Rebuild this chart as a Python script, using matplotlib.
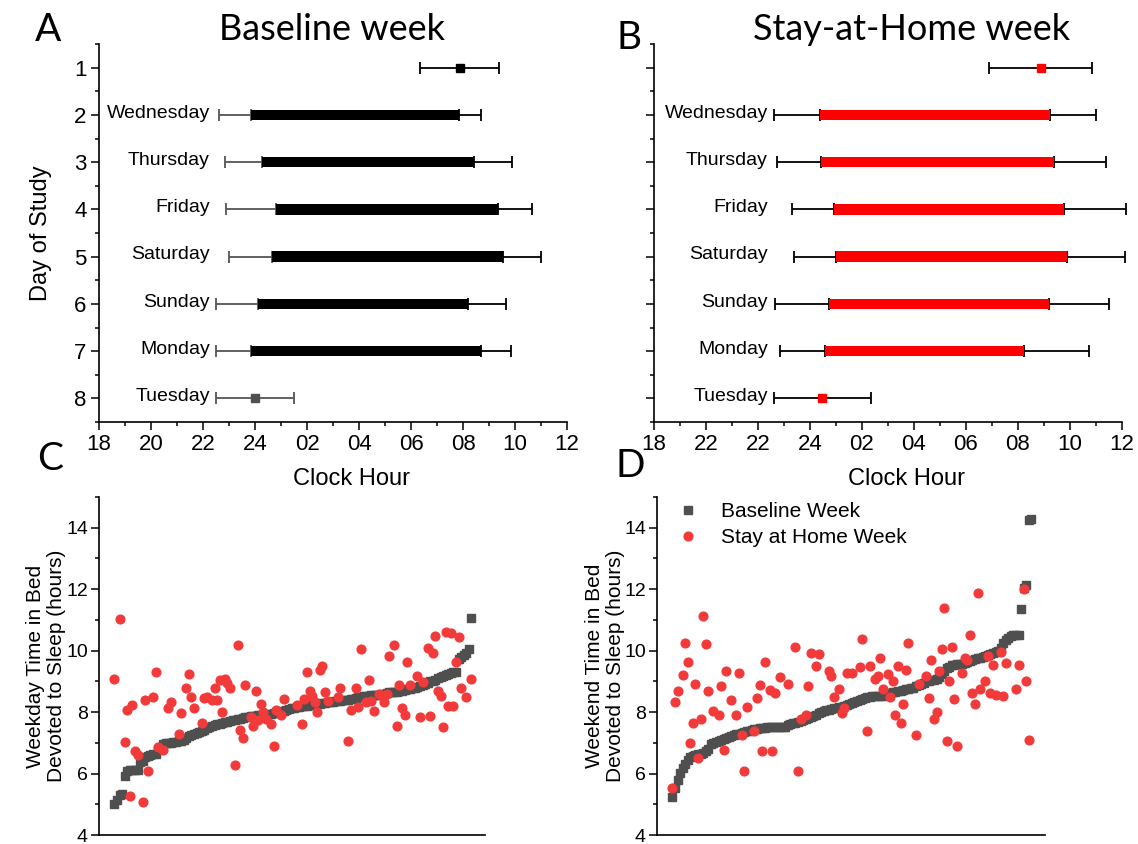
import numpy as np
import matplotlib
matplotlib.use("Agg")
import matplotlib.pyplot as plt
from matplotlib.ticker import MultipleLocator

plt.rcParams['font.family'] = ['Liberation Sans', 'DejaVu Sans']

# -------- PANELS A / B : sleep timing ----------
# clock hours on an 18..36 axis (24 = midnight, 32 = 08:00 next day)
days = ["Wednesday", "Thursday", "Friday", "Saturday", "Sunday", "Monday"]
day_rows = [2, 3, 4, 5, 6, 7]
hour_ticks = [18, 20, 22, 24, 26, 28, 30, 32, 34, 36]
hour_labels_a = ["18", "20", "22", "24", "02", "04", "06", "08", "10", "12"]
hour_labels_b = ["18", "22", "22", "24", "02", "04", "06", "08", "10", "12"]

base_bed = [23.85, 24.27, 24.79, 24.67, 24.13, 23.86]
base_bed_sd = [1.24, 1.44, 1.89, 1.67, 1.62, 1.35]
base_wake = [31.86, 32.44, 33.33, 33.55, 32.20, 32.69]
base_wake_sd = [0.83, 1.46, 1.32, 1.46, 1.44, 1.15]
base_first_wake, base_first_sd = 31.88, 1.52
base_last_bed, base_last_sd = 24.00, 1.50

home_bed = [24.37, 24.44, 24.91, 24.99, 24.72, 24.56]
home_bed_sd = [1.76, 1.69, 1.61, 1.61, 2.08, 1.72]
home_wake = [33.25, 33.39, 33.78, 33.88, 33.18, 32.22]
home_wake_sd = [1.75, 1.98, 2.37, 2.22, 2.31, 2.50]
home_first_wake, home_first_sd = 32.88, 1.98
home_last_bed, home_last_sd = 24.48, 1.85

# -------- PANELS C / D : time in bed devoted to sleep ----------
wkday_base = [5.02, 5.15, 5.30, 5.32, 5.92, 6.08, 6.10, 6.12, 6.12, 6.13,
              6.38, 6.42, 6.55, 6.58, 6.60, 6.62, 6.65, 6.78, 6.85, 6.95,
              6.98, 7.00, 7.00, 7.02, 7.03, 7.05, 7.07, 7.10, 7.15, 7.22,
              7.25, 7.28, 7.32, 7.35, 7.38, 7.42, 7.48, 7.52, 7.55, 7.57,
              7.60, 7.62, 7.65, 7.67, 7.69, 7.71, 7.73, 7.75, 7.77, 7.79,
              7.81, 7.83, 7.85, 7.86, 7.87, 7.88, 7.89, 7.90, 7.91, 7.92,
              7.93, 7.94, 7.96, 7.98, 8.00, 8.02, 8.04, 8.06, 8.09, 8.12,
              8.14, 8.16, 8.18, 8.19, 8.20, 8.21, 8.22, 8.23, 8.24, 8.25,
              8.26, 8.30, 8.31, 8.32, 8.33, 8.34, 8.35, 8.36, 8.37, 8.38,
              8.39, 8.40, 8.42, 8.44, 8.46, 8.48, 8.50, 8.51, 8.52, 8.53,
              8.54, 8.55, 8.56, 8.57, 8.58, 8.60, 8.62, 8.64, 8.65, 8.66,
              8.67, 8.68, 8.70, 8.72, 8.74, 8.76, 8.78, 8.80, 8.82, 8.85,
              8.88, 8.92, 8.96, 9.00, 9.02, 9.06, 9.12, 9.15, 9.18, 9.20,
              9.23, 9.26, 9.30, 9.32, 9.72, 9.80, 9.86, 9.92, 10.05, 11.05]

wkday_home_idx = [1, 3, 5, 6, 7, 8, 9, 10, 12, 13, 14, 16, 17, 18, 20, 22, 23,
                  26, 27, 29, 30, 31, 32, 35, 36, 37, 39, 40, 41, 42, 43, 44,
                  45, 46, 48, 49, 50, 51, 52, 54, 55, 56, 57, 58, 59, 60, 62,
                  63, 64, 66, 67, 72, 74, 75, 76, 77, 78, 79, 80, 81, 82, 83,
                  84, 88, 89, 92, 93, 95, 96, 97, 99, 100, 101, 102, 104, 106,
                  107, 108, 110, 111, 112, 113, 114, 115, 116, 119, 120, 121,
                  123, 124, 125, 126, 127, 128, 129, 130, 131, 132, 133, 134,
                  135, 136, 138, 140]
wkday_home = [9.07, 11.04, 7.02, 8.07, 5.27, 8.23, 6.72, 6.61, 5.06, 8.40, 6.08,
              8.49, 9.29, 6.88, 6.75, 8.12, 8.34, 7.29, 7.96, 8.80, 9.25, 8.48,
              8.14, 7.66, 8.46, 8.48, 8.38, 8.77, 8.38, 9.04, 8.01, 9.09, 8.94,
              8.77, 6.28, 10.18, 7.43, 7.17, 8.87, 7.84, 7.56, 8.68, 7.73, 8.25,
              8.01, 7.78, 7.60, 6.91, 8.08, 7.89, 8.43, 8.23, 7.62, 8.43, 9.29,
              8.68, 8.52, 8.34, 8.01, 9.37, 9.50, 8.66, 8.36, 8.50, 8.77, 7.06,
              8.08, 8.79, 8.16, 10.06, 8.34, 9.04, 8.36, 8.03, 8.58, 8.34, 8.58,
              9.81, 10.18, 7.54, 8.88, 8.14, 7.92, 9.62, 8.87, 9.18, 7.83, 8.99,
              10.07, 7.87, 9.93, 10.49, 8.68, 8.51, 7.51, 10.60, 8.19, 10.57,
              8.21, 9.64, 10.44, 8.77, 8.50, 9.09]

wkend_base = [5.25, 5.52, 5.80, 6.02, 6.18, 6.32, 6.45, 6.53, 6.57, 6.60,
              6.62, 6.65, 6.68, 6.72, 6.80, 6.95, 7.00, 7.02, 7.05, 7.08,
              7.12, 7.15, 7.20, 7.23, 7.26, 7.28, 7.30, 7.32, 7.35, 7.38,
              7.40, 7.42, 7.44, 7.46, 7.47, 7.48, 7.49, 7.50, 7.50, 7.50,
              7.51, 7.51, 7.52, 7.52, 7.53, 7.58, 7.62, 7.64, 7.66, 7.68,
              7.70, 7.73, 7.76, 7.80, 7.84, 7.88, 7.92, 7.96, 8.00, 8.03,
              8.06, 8.08, 8.10, 8.12, 8.14, 8.15, 8.16, 8.20, 8.24, 8.27,
              8.30, 8.33, 8.36, 8.39, 8.42, 8.45, 8.48, 8.50, 8.51, 8.52,
              8.52, 8.53, 8.53, 8.58, 8.60, 8.62, 8.64, 8.66, 8.68, 8.70,
              8.72, 8.74, 8.76, 8.78, 8.80, 8.84, 8.88, 8.92, 8.96, 9.00,
              9.02, 9.04, 9.05, 9.08, 9.15, 9.25, 9.35, 9.42, 9.48, 9.52,
              9.54, 9.55, 9.56, 9.58, 9.60, 9.62, 9.65, 9.68, 9.72, 9.75,
              9.77, 9.80, 9.83, 9.86, 9.90, 9.93, 9.96, 10.00, 10.10, 10.25,
              10.35, 10.42, 10.48, 10.50, 10.50, 10.52, 11.35, 12.05, 12.12,
              14.25, 14.27]

wkend_home_idx = [1, 2, 3, 5, 6, 7, 8, 9, 10, 11, 12, 13, 14, 15, 17, 19, 20,
                  21, 22, 24, 26, 27, 28, 29, 30, 33, 34, 35, 36, 37, 39, 40,
                  41, 43, 46, 49, 50, 51, 53, 54, 55, 57, 58, 62, 63, 64, 66,
                  67, 68, 69, 71, 74, 75, 77, 78, 80, 81, 82, 83, 85, 86, 87,
                  88, 89, 90, 91, 92, 93, 96, 97, 100, 101, 102, 103, 104, 105,
                  106, 107, 108, 109, 110, 111, 112, 114, 115, 116, 117, 118,
                  119, 120, 121, 123, 124, 125, 126, 127, 129, 130, 131, 135,
                  136, 138, 139, 140]
wkend_home = [5.54, 8.33, 8.70, 9.22, 10.25, 9.63, 7.00, 7.66, 8.92, 6.51, 7.76,
              11.14, 10.22, 8.68, 8.02, 7.92, 8.84, 6.75, 9.35, 8.38, 7.89, 9.26,
              7.26, 6.08, 8.18, 7.39, 8.47, 8.87, 6.72, 9.62, 8.72, 6.72, 8.62,
              9.13, 8.90, 10.13, 6.07, 7.76, 7.89, 8.84, 9.92, 9.50, 9.89, 9.35,
              9.19, 8.50, 8.76, 7.96, 8.14, 9.26, 9.26, 9.46, 10.38, 7.40, 9.51,
              9.07, 9.18, 9.76, 8.76, 9.24, 8.48, 9.00, 7.89, 9.51, 7.63, 8.25,
              9.38, 10.26, 7.26, 8.92, 9.16, 8.47, 9.68, 7.76, 8.01, 9.35, 10.05,
              11.39, 7.05, 9.01, 10.12, 8.43, 6.91, 9.26, 9.76, 9.70, 10.51,
              8.62, 8.25, 11.88, 8.76, 9.02, 9.84, 8.63, 9.54, 8.55, 9.97, 8.51,
              9.59, 8.76, 9.53, 11.99, 9.01, 7.08]

GRAY = "#4f4f4f"
RED = "#f23a3a"
W, H = 1138, 844


def box(x0, y0, x1, y1):
    # pixel box -> figure fraction rect
    return [x0 / W, 1 - y1 / H, (x1 - x0) / W, (y1 - y0) / H]


def no_clip(container):
    for part in container.lines:
        if part is None:
            continue
        items = part if isinstance(part, tuple) else (part,)
        for it in items:
            it.set_clip_on(False)


def timing_panel(ax, bed, bed_sd, wake, wake_sd, first, first_sd, last, last_sd,
                 bar_col, bed_err_col, end_col, end_err_col, tick_labels, label_x):
    n = len(bed)
    ax.barh(day_rows, np.array(wake) - np.array(bed), left=bed, height=0.22,
            color=bar_col, zorder=3)
    c = ax.errorbar(bed, day_rows, xerr=[bed_sd, np.zeros(n)], fmt='none',
                    ecolor=bed_err_col, elinewidth=1.3, capsize=4, capthick=1.3, zorder=2)
    no_clip(c)
    c = ax.errorbar(wake, day_rows, xerr=[np.zeros(n), wake_sd], fmt='none',
                    ecolor='black', elinewidth=1.3, capsize=4, capthick=1.3, zorder=2)
    no_clip(c)
    c = ax.errorbar([first], [1], xerr=[first_sd], fmt='s', ms=6, color=end_col,
                    ecolor='black', elinewidth=1.3, capsize=4, capthick=1.3, zorder=3)
    no_clip(c)
    last_col = end_col if end_col != 'black' else GRAY
    c = ax.errorbar([last], [8], xerr=[last_sd], fmt='s', ms=6, color=last_col,
                    ecolor=end_err_col, elinewidth=1.3, capsize=4, capthick=1.3, zorder=3)
    no_clip(c)
    for d, r in zip(days + ["Tuesday"], day_rows + [8]):
        ax.text(label_x, r + 0.06, d, ha='right', va='baseline', fontsize=14)

    ax.set_xlim(18, 36)
    ax.set_ylim(8.5, 0.5)
    ax.set_xticks(hour_ticks)
    ax.set_xticklabels(tick_labels)
    ax.xaxis.set_minor_locator(MultipleLocator(1))
    ax.set_yticks(range(1, 9))
    ax.set_yticks(np.arange(0.5, 8.6, 1), minor=True)
    ax.tick_params(which='major', direction='out', length=6, width=1.1, labelsize=16, pad=3)
    ax.tick_params(which='minor', direction='out', length=3, width=1.1)
    for s in ['top', 'right']:
        ax.spines[s].set_visible(False)
    for s in ['left', 'bottom']:
        ax.spines[s].set_linewidth(1.2)
    ax.set_xlabel("Clock Hour", fontsize=17)
    ax.xaxis.set_label_coords(0.54, -0.123)
    ax.xaxis.label.set_va('top')


fig = plt.figure(figsize=(W / 100, H / 100), dpi=100)

axA = fig.add_axes(box(99, 44, 567, 422))
timing_panel(axA, base_bed, base_bed_sd, base_wake, base_wake_sd,
             base_first_wake, base_first_sd, base_last_bed, base_last_sd,
             'black', '#555555', 'black', '#555555', hour_labels_a, 22.26)
axA.set_ylabel("Day of Study", fontsize=17)
axA.yaxis.set_label_coords(-0.1, 0.5)

axB = fig.add_axes(box(654, 44, 1122, 422))
timing_panel(axB, home_bed, home_bed_sd, home_wake, home_wake_sd,
             home_first_wake, home_first_sd, home_last_bed, home_last_sd,
             '#ff0000', 'black', '#ff0000', 'black', hour_labels_b, 22.38)
axB.set_yticklabels([])


def sleep_panel(ax, base, home_idx, home, ylabel):
    x = np.arange(1, len(base) + 1)
    hb, = ax.plot(x, base, 's', ms=5.2, color=GRAY, lw=0, zorder=2, label="Baseline Week")
    hh, = ax.plot(home_idx, home, 'o', ms=6.3, color=RED, lw=0, zorder=3, label="Stay at Home Week")
    ax.set_xlim(-5, len(base) + 5.3)
    ax.set_ylim(4, 15)
    ax.set_xticks([])
    ax.yaxis.set_major_locator(MultipleLocator(2))
    ax.yaxis.set_minor_locator(MultipleLocator(1))
    ax.tick_params(which='major', direction='out', length=6, width=1.1, labelsize=14, pad=2)
    ax.tick_params(which='minor', direction='out', length=3, width=1.1)
    for s in ['top', 'right']:
        ax.spines[s].set_visible(False)
    for s in ['left', 'bottom']:
        ax.spines[s].set_linewidth(1.2)
    ax.set_ylabel(ylabel, fontsize=15, linespacing=1.15)
    return hb, hh


axC = fig.add_axes(box(99, 497, 485, 835))
sleep_panel(axC, wkday_base, wkday_home_idx, wkday_home,
            "Weekday Time in Bed\nDevoted to Sleep (hours)")
axC.yaxis.set_label_coords(-0.085, 0.5)

axD = fig.add_axes(box(657, 497, 1045, 835))
hb, hh = sleep_panel(axD, wkend_base, wkend_home_idx, wkend_home,
                     "Weekend Time in Bed\nDevoted to Sleep (hours)")
axD.yaxis.set_label_coords(-0.083, 0.5)
axD.legend(handles=[hb, hh], loc='upper left', bbox_to_anchor=(0.025, 1.01),
           frameon=False, fontsize=15, handlelength=1.2, handletextpad=1.0,
           labelspacing=0.35, borderaxespad=0)

# -------- titles and panel letters ----------
title_font = dict(family=['Lato', 'DejaVu Sans'], va='center', ha='center')
fig.text(332 / W, 1 - 29 / H, "Baseline week", fontsize=26, **title_font)
fig.text(912 / W, 1 - 30 / H, "Stay-at-Home week", fontsize=26, **title_font)
for letter, px, py in [("A", 48, 30), ("B", 629, 38), ("C", 50, 459), ("D", 630, 466)]:
    fig.text(px / W, 1 - py / H, letter, fontsize=28, **title_font)

fig.savefig("out.png", dpi=100)
